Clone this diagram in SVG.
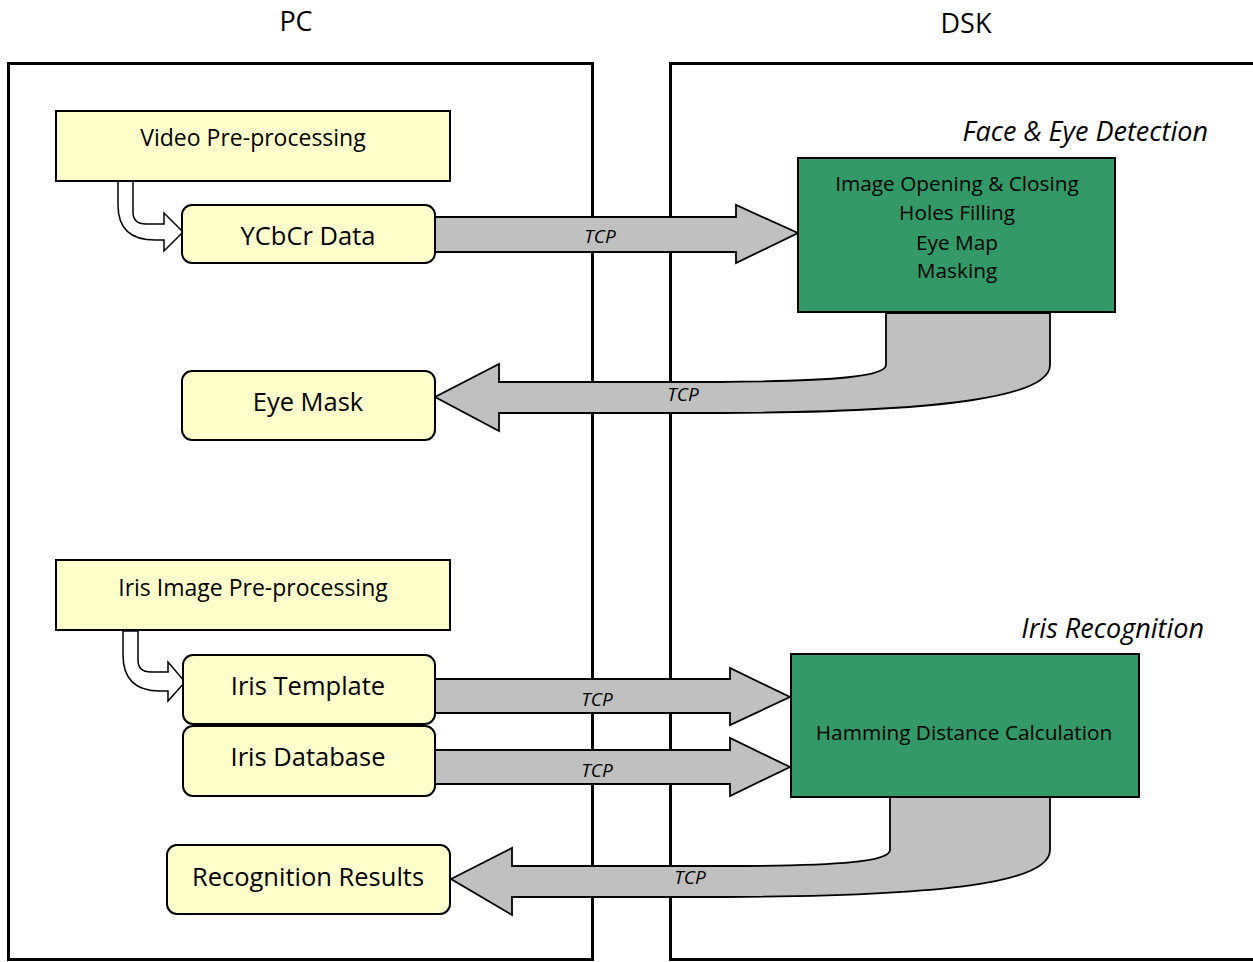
<svg xmlns="http://www.w3.org/2000/svg" width="1253" height="962" viewBox="0 0 1253 962">
<style>
.frame{fill:none;stroke:#000;stroke-width:3}
.yb{fill:#FFFFCC;stroke:#000;stroke-width:2}
.gb{fill:#339966;stroke:#000;stroke-width:2}
.ga{fill:#C0C0C0;stroke:#000;stroke-width:1.8;stroke-linejoin:miter}
.ha{fill:#fff;stroke:#000;stroke-width:1.5}
text{font-family:"Open Sans","Noto Sans",sans-serif;fill:#000;text-anchor:middle;dominant-baseline:central}
.t19{font-size:23px}
.tg{font-size:20.8px}
.t22{font-size:25.5px}
.tcp{font-size:19px;font-style:italic}
.ital{font-size:27px;font-style:italic;text-anchor:end}
.hdr{font-size:27px}
</style>
<rect width="1253" height="962" fill="#fff"/>
<g id="frames">
<rect class="frame" x="8.5" y="63.5" width="584" height="896"/>
<rect class="frame" x="670.5" y="63.5" width="590" height="896"/>
<text class="hdr" x="296" y="20">PC</text>
<text class="hdr" x="966" y="22">DSK</text>
</g>
<g id="connectors">
<path class="ha" d="M118,181 V205 C118,228 130,240 155,240 H164 V251 L183,232 L164,213 V224 H146 C138,224 133,220 133,212 V181 Z"/>
<path class="ha" d="M123,631 V655 C123,678 135,691 160,691 H168 V701 L185,682 L168,662 V672 H151 C143,672 138,668 138,660 V631 Z"/>
<path class="ga" d="M435,217 H736 V205 L798,233 L736,263 V252 H435 Z"/>
<path class="ga" d="M886,313 V365 C886,376 840,381 720,382 H499 V364 L435,397 L499,431 V413 H720 C950,412 1050,396 1050,365 V313 Z"/>
<path class="ga" d="M435,679 H730 V668 L790,697 L730,725 V713 H435 Z"/>
<path class="ga" d="M435,750 H730 V738 L790,767 L730,796 V784 H435 Z"/>
<path class="ga" d="M890,797 V850 C890,861 845,866 725,866 H512 V848 L451,879 L512,915 V897 H725 C950,896 1050,882 1050,850 V797 Z"/>
<text class="tcp" x="600" y="236">TCP</text>
<text class="tcp" x="683" y="394">TCP</text>
<text class="tcp" x="597" y="699">TCP</text>
<text class="tcp" x="597" y="770">TCP</text>
<text class="tcp" x="690" y="877">TCP</text>
</g>
<g id="video-preprocessing">
<rect class="yb" x="56" y="111" width="394" height="70"/>
<text class="t19" x="253" y="137">Video Pre-processing</text>
</g>
<g id="ycbcr-data">
<rect class="yb" x="182" y="205" width="253" height="58" rx="10"/>
<text class="t22" x="308" y="235">YCbCr Data</text>
</g>
<g id="eye-mask">
<rect class="yb" x="182" y="371" width="253" height="69" rx="10"/>
<text class="t22" x="308" y="401">Eye Mask</text>
</g>
<g id="iris-image-preprocessing">
<rect class="yb" x="56" y="560" width="394" height="70"/>
<text class="t19" x="253" y="587">Iris Image Pre-processing</text>
</g>
<g id="iris-template">
<rect class="yb" x="183" y="655" width="252" height="69" rx="10"/>
<text class="t22" x="308" y="685">Iris Template</text>
</g>
<g id="iris-database">
<rect class="yb" x="183" y="726" width="252" height="70" rx="10"/>
<text class="t22" x="308" y="756">Iris Database</text>
</g>
<g id="recognition-results">
<rect class="yb" x="167" y="845" width="283" height="69" rx="10"/>
<text class="t22" x="308" y="876">Recognition Results</text>
</g>
<g id="face-eye-detection">
<rect class="gb" x="798" y="158" width="317" height="154"/>
<text class="tg" x="957" y="183">Image Opening &amp; Closing</text>
<text class="tg" x="957" y="212">Holes Filling</text>
<text class="tg" x="957" y="242">Eye Map</text>
<text class="tg" x="957" y="270">Masking</text>
<text class="ital" x="1208" y="130">Face &amp; Eye Detection</text>
</g>
<g id="iris-recognition">
<rect class="gb" x="791" y="654" width="348" height="143"/>
<text class="tg" x="964" y="732">Hamming Distance Calculation</text>
<text class="ital" x="1204" y="627">Iris Recognition</text>
</g>
</svg>
